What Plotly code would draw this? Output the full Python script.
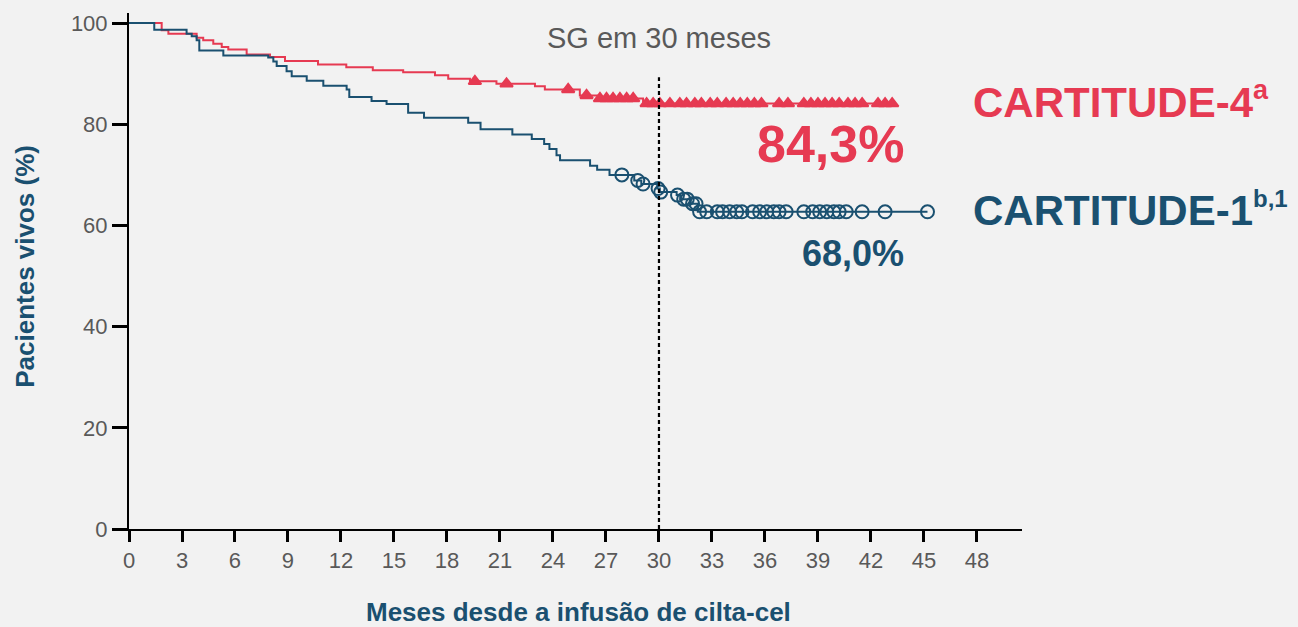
import plotly.graph_objects as go

# ---------------- data ----------------
# CARTITUDE-4 (KM step function): event times (months) and survival after each step (%)
c4_times = [0, 1.85, 2.23, 3.83, 4.2, 4.77, 5.25, 5.62, 6.66, 7.98, 8.83, 10.7, 12.3, 13.8,
            15.52, 17.32, 18.07, 19.3, 20.8, 22.98, 23.54, 25.52, 26.56, 29.1]
c4_surv = [100, 98.6, 97.9, 97.1, 96.6, 95.9, 95.3, 94.8, 93.8, 93.3, 92.5, 91.8, 91.3, 90.7,
           90.3, 89.7, 89.0, 88.5, 88.0, 87.5, 86.9, 85.7, 85.1, 84.1]
c4_end = 43.3
c4_censor = [19.58, 21.37, 24.86, 25.9, 26.66, 27.03, 27.4, 27.79, 28.17, 28.54, 29.3, 29.67,
             30.05, 30.62, 31.18, 31.56, 32.03, 32.4, 32.9, 33.3, 33.8, 34.2, 34.6, 35.0, 35.4,
             35.8, 36.8, 37.3, 38.2, 38.6, 39.0, 39.4, 39.8, 40.2, 40.7, 41.1, 41.5, 42.4, 42.8, 43.2]

# CARTITUDE-1
c1_times = [0, 1.43, 3.26, 3.55, 3.83, 3.98, 5.34, 7.88, 8.17, 8.36, 8.92, 9.21, 10.06, 11.0,
            12.32, 12.47, 13.73, 14.58, 15.8, 16.7, 19.2, 19.9, 21.7, 22.8, 23.5, 23.8, 24.2,
            24.4, 26.1, 26.5, 27.2, 28.6, 29.0, 29.9, 30.05, 31.0, 31.2, 31.8, 32.2]
c1_surv = [100, 98.7, 97.9, 97.4, 96.6, 94.6, 93.6, 93.2, 92.4, 91.5, 90.5, 89.5, 88.6, 87.6,
           86.9, 85.4, 84.6, 84.0, 82.3, 81.3, 80.3, 79.0, 78.0, 77.1, 76.1, 75.1, 73.9,
           72.9, 71.8, 71.0, 70.0, 68.9, 68.2, 67.3, 66.6, 66.0, 65.2, 64.3, 62.7]
c1_end = 45.2
c1_censor = [27.9, 28.8, 29.1, 29.95, 30.1, 31.05, 31.4, 31.6, 31.9, 32.1, 32.3, 32.7, 33.3,
             33.6, 34.0, 34.4, 34.7, 35.3, 35.7, 36.1, 36.5, 36.8, 37.2, 38.2, 38.7, 39.1,
             39.5, 39.9, 40.2, 40.6, 41.5, 42.8, 45.2]

x_ticks = list(range(0, 49, 3))
y_ticks = [0, 20, 40, 60, 80, 100]
landmark_month = 30

RED = "#E63A52"
TEAL = "#1A5070"
GRAY = "#595959"
BG = "#F2F2F2"
FONT = "Liberation Sans, Arial, sans-serif"


def surv_at(times, surv, t):
    v = surv[0]
    for ti, si in zip(times, surv):
        if ti <= t:
            v = si
    return v


fig = go.Figure()

for times, surv, end, censor, color, sym, msize in [
    (c4_times, c4_surv, c4_end, c4_censor, RED, "triangle-up", 11),
    (c1_times, c1_surv, c1_end, c1_censor, TEAL, "circle-open", 13),
]:
    xs = list(times) + [end]
    ys = list(surv) + [surv[-1]]
    fig.add_trace(go.Scatter(x=xs, y=ys, mode="lines", line=dict(color=color, width=2, shape="hv"),
                             hoverinfo="skip", showlegend=False))
    cy = [surv_at(times, surv, t) for t in censor]
    fig.add_trace(go.Scatter(x=censor, y=cy, mode="markers",
                             marker=dict(symbol=sym, size=msize, color=color,
                                         line=dict(color=color, width=2)),
                             hoverinfo="skip", showlegend=False))

fig.add_shape(type="line", xref="x", yref="y", x0=landmark_month, x1=landmark_month, y0=0, y1=89.3,
              line=dict(color="black", width=2.2, dash="4px,3px"))

ann = [
    dict(x=landmark_month, y=97.1, text="SG em 30 meses", font=dict(size=29, color=GRAY),
         xanchor="center", yanchor="middle"),
    dict(x=47.65, y=84.8,
         text="<b>CARTITUDE-4<sup><span style='font-size:27px'>a</span></sup></b>",
         font=dict(size=42, color=RED), xanchor="left", yanchor="middle"),
    dict(x=43.99, y=76.1, text="<b>84,3%</b>", font=dict(size=52, color=RED),
         xanchor="right", yanchor="middle"),
    dict(x=47.65, y=63.1,
         text="<b>CARTITUDE-1<sup><span style='font-size:24px'>b,1</span></sup></b>",
         font=dict(size=42, color=TEAL), xanchor="left", yanchor="middle"),
    dict(x=43.99, y=54.4, text="<b>68,0%</b>", font=dict(size=36, color=TEAL),
         xanchor="right", yanchor="middle"),
]
for a in ann:
    fig.add_annotation(xref="x", yref="y", showarrow=False, **a)

fig.add_annotation(xref="paper", yref="paper", x=0.503, y=-0.16, showarrow=False,
                   text="<b>Meses desde a infusão de cilta-cel</b>",
                   font=dict(size=26, color=TEAL), xanchor="center", yanchor="middle")
fig.add_annotation(xref="paper", yref="paper", x=-0.1165, y=0.51, showarrow=False, textangle=-90,
                   text="<b>Pacientes vivos (%)</b>",
                   font=dict(size=26, color=TEAL), xanchor="center", yanchor="middle")

fig.update_xaxes(range=[0, 50.55], tickvals=x_ticks, ticktext=[str(v) for v in x_ticks],
                 showline=True, linecolor="black", linewidth=2, ticks="outside", ticklen=11,
                 tickwidth=2.5, tickcolor="black", showgrid=False, zeroline=False,
                 tickfont=dict(size=22, color=GRAY, family=FONT))
fig.update_yaxes(range=[0, 102], tickvals=y_ticks, ticktext=[str(v) for v in y_ticks],
                 showline=True, linecolor="black", linewidth=2, ticks="outside", ticklen=15,
                 tickwidth=2.5, tickcolor="black", showgrid=False, zeroline=False,
                 tickfont=dict(size=22, color=GRAY, family=FONT))

fig.update_layout(width=1298, height=627, autosize=False,
                  margin=dict(l=129, r=276, t=13, b=98),
                  paper_bgcolor=BG, plot_bgcolor=BG,
                  font=dict(family=FONT, color=GRAY), showlegend=False)

# remove the page's default body margin so the figure fills the window
fig.write_html("out.html",
               config={"displayModeBar": False},
               post_script="document.body.style.margin='0';"
                           "document.body.style.background='#F2F2F2';"
                           "document.body.style.overflow='hidden';")
